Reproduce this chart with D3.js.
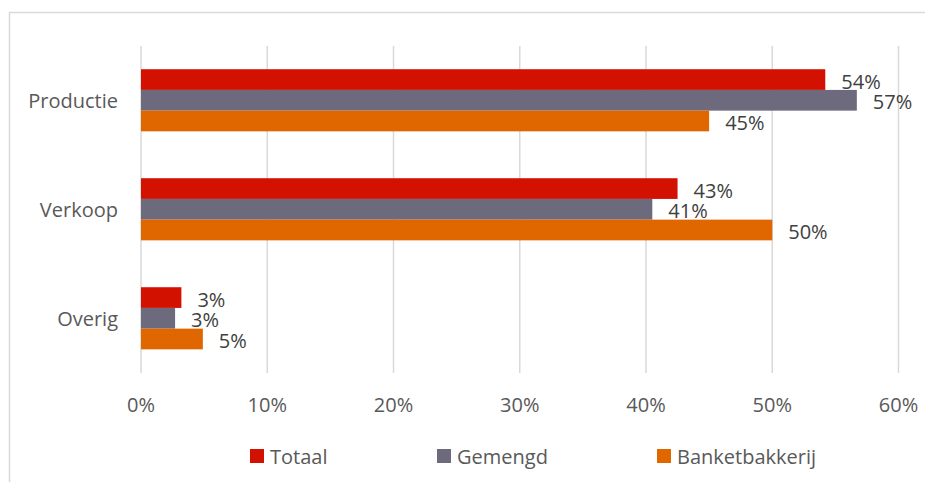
<!DOCTYPE html>
<html>
<head>
<meta charset="utf-8">
<script src="https://cdn.jsdelivr.net/npm/d3@7"></script>
<style>
  body { margin: 0; background: #fff; }
  text { font-family: "Open Sans", sans-serif; }
</style>
</head>
<body>
<svg id="chart" width="925" height="482"></svg>
<script>
// data
const categories = ["Productie", "Verkoop", "Overig"];
const series = ["Totaal", "Gemengd", "Banketbakkerij"];
const totaal = [0.542, 0.425, 0.032];
const gemengd = [0.567, 0.405, 0.027];
const banket = [0.450, 0.500, 0.049];
const labels = [["54%", "43%", "3%"], ["57%", "41%", "3%"], ["45%", "50%", "5%"]];
const ticks = [0, 0.1, 0.2, 0.3, 0.4, 0.5, 0.6];
const colors = ["#d31100", "#6d6a7d", "#e06600"];

const values = [totaal, gemengd, banket];

const svg = d3.select("#chart");

// outer frame (only top and left visible)
svg.append("path")
  .attr("d", "M9.5,482 V12.5 H925")
  .attr("fill", "none")
  .attr("stroke", "#d9d9d9")
  .attr("stroke-width", 1.5);

const x = d3.scaleLinear().domain([0, 0.6]).range([141, 898.5]);
const y = d3.scaleBand().domain(categories).range([46, 373]);
// the bar group fills the middle 57% of each band
const groupTop = y.bandwidth() * 0.213;
const groupH = y.bandwidth() * 0.57;
const inner = d3.scaleBand().domain(series).range([groupTop, groupTop + groupH]);

// gridlines
svg.append("g").selectAll("line")
  .data(ticks)
  .join("line")
  .attr("x1", d => x(d)).attr("x2", d => x(d))
  .attr("y1", 46).attr("y2", 373)
  .attr("stroke", "#d9d9d9")
  .attr("stroke-width", 1.5);

// x tick labels
svg.append("g").selectAll("text")
  .data(ticks)
  .join("text")
  .attr("x", d => x(d))
  .attr("y", 404)
  .attr("text-anchor", "middle")
  .attr("dominant-baseline", "central")
  .attr("font-size", 20)
  .attr("fill", "#595959")
  .text(d3.format(".0%"));

// category labels
svg.append("g").selectAll("text")
  .data(categories)
  .join("text")
  .attr("x", 118)
  .attr("y", d => y(d) + y.bandwidth() / 2)
  .attr("text-anchor", "end")
  .attr("dominant-baseline", "central")
  .attr("font-size", 20)
  .attr("fill", "#595959")
  .text(d => d);

// bars + value labels
series.forEach((s, si) => {
  const g = svg.append("g");
  const rows = categories.map((c, ci) => ({ c: c, v: values[si][ci], lab: labels[si][ci] }));
  g.selectAll("rect")
    .data(rows)
    .join("rect")
    .attr("x", x(0))
    .attr("y", d => y(d.c) + inner(s))
    .attr("width", d => x(d.v) - x(0))
    .attr("height", inner.bandwidth())
    .attr("fill", colors[si]);
  g.selectAll("text")
    .data(rows)
    .join("text")
    .attr("x", d => x(d.v) + 16)
    .attr("y", d => y(d.c) + inner(s) + inner.bandwidth() / 2 + 1.5)
    .attr("dominant-baseline", "central")
    .attr("font-size", 20)
    .attr("fill", "#404040")
    .text(d => d.lab);
});

// legend
const legendX = [250, 437, 657];
const legend = svg.append("g").selectAll("g")
  .data(series)
  .join("g")
  .attr("transform", (d, i) => `translate(${legendX[i]},456)`);
legend.append("rect")
  .attr("x", 0).attr("y", -7)
  .attr("width", 14).attr("height", 14)
  .attr("fill", (d, i) => colors[i]);
legend.append("text")
  .attr("x", 20)
  .attr("y", 0)
  .attr("dominant-baseline", "central")
  .attr("font-size", 20)
  .attr("fill", "#595959")
  .text(d => d);
</script>
</body>
</html>
